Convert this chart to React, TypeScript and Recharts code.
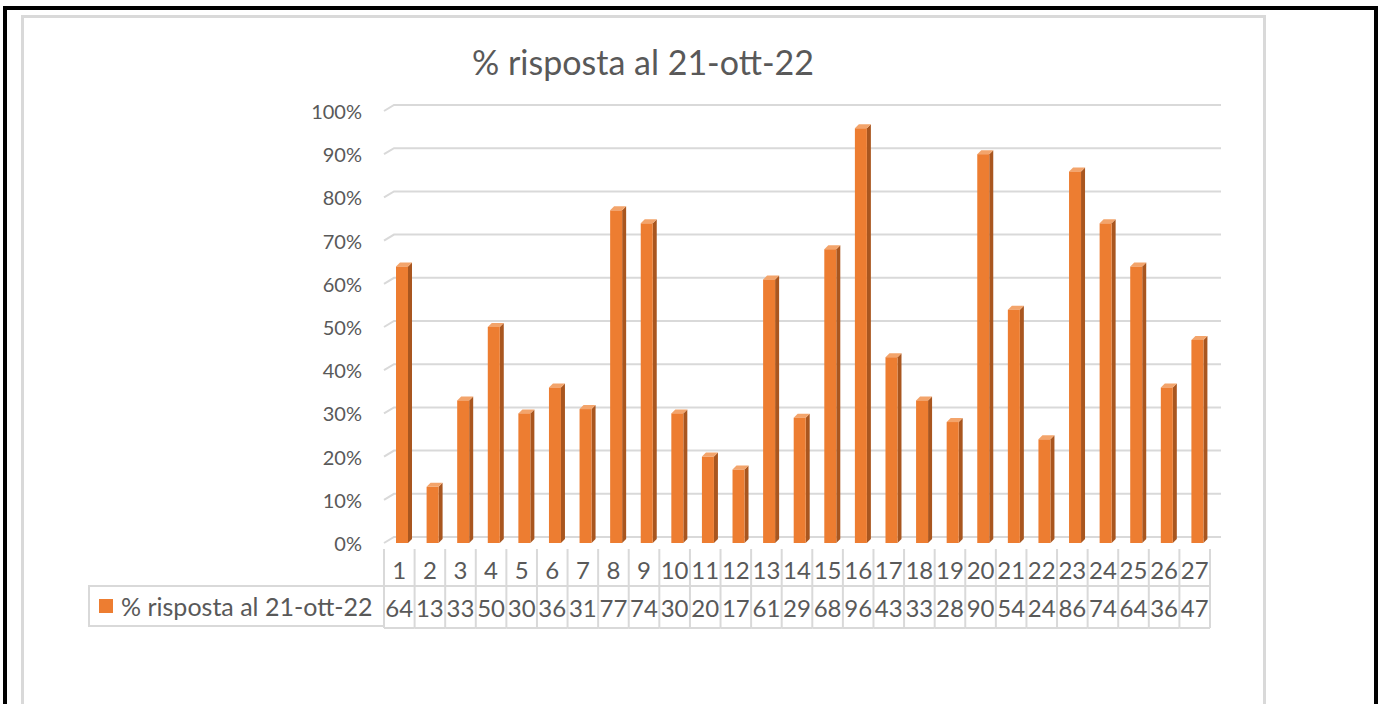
import React from 'react';
import { BarChart, Bar, XAxis, YAxis, CartesianGrid } from 'recharts';

const categories = ['1','2','3','4','5','6','7','8','9','10','11','12','13','14','15','16','17','18','19','20','21','22','23','24','25','26','27'];
const risposta = [64, 13, 33, 50, 30, 36, 31, 77, 74, 30, 20, 17, 61, 29, 68, 96, 43, 33, 28, 90, 54, 24, 86, 74, 64, 36, 47];
const yTicks = [0, 10, 20, 30, 40, 50, 60, 70, 80, 90, 100];
const seriesName = '% risposta al 21-ott-22';

const data = categories.map((c, i) => ({ cat: c, value: risposta[i] }));

const FONT = 'Lato, "Open Sans", sans-serif';
const TEXT = '#595959';
const LINE = '#d9d9d9';
const BAND = 826 / 27;

// 3D-looking column: front face, darker side, lighter top
const Bar3D = (props: any) => {
  const { x, y, height } = props;
  const fx = x + 3;
  const w = 12;
  const d = 4;
  return (
    <g>
      <polygon points={`${fx + w},${y} ${fx + w + d},${y - d} ${fx + w + d},${y + height - d} ${fx + w},${y + height}`} fill="#a9561f" />
      <polygon points={`${fx},${y} ${fx + d},${y - d} ${fx + w + d},${y - d} ${fx + w},${y}`} fill="#f3a46b" />
      <rect x={fx} y={y} width={w} height={height} fill="#ed7d31" />
    </g>
  );
};

const gridLine = (props: any) => {
  const { x1, y1, x2 } = props;
  return (
    <path
      key={`g-${y1}`}
      d={`M${x1},${y1} L${x1 + 10},${y1 - 6} L${x2 + 11},${y1 - 6}`}
      stroke={LINE}
      strokeWidth={2}
      fill="none"
    />
  );
};

const YTick = (props: any) => {
  const { y, payload } = props;
  return (
    <text x={362} y={y} textAnchor="end" dominantBaseline="central" fontFamily={FONT} fontSize={20} fill={TEXT}>
      {`${payload.value}%`}
    </text>
  );
};

// category row + value row of the data table
const XTick = (props: any) => {
  const { x, y, payload, index } = props;
  const left = x - BAND / 2;
  const right = x + BAND / 2;
  const last = index === categories.length - 1;
  return (
    <g>
      <path d={`M${left},${y + 6} L${left},${y + 85}`} stroke={LINE} strokeWidth={2} />
      {last && <path d={`M${right},${y + 6} L${right},${y + 85}`} stroke={LINE} strokeWidth={2} />}
      <path d={`M${left},${y + 43} L${right},${y + 43} M${left},${y + 85} L${right},${y + 85}`} stroke={LINE} strokeWidth={2} />
      <text x={x} y={y + 26} textAnchor="middle" dominantBaseline="central" fontFamily={FONT} fontSize={24} fill={TEXT}>
        {payload.value}
      </text>
      <text x={x} y={y + 64} textAnchor="middle" dominantBaseline="central" fontFamily={FONT} fontSize={24} fill={TEXT}>
        {risposta[index]}
      </text>
    </g>
  );
};

const frameLine = (left: number, top: number, width: number, height: number, color: string) => (
  <div style={{ position: 'absolute', left, top, width, height, background: color }} />
);

export default function App() {
  return (
    <div style={{ position: 'fixed', left: 0, top: 0, width: 1383, height: 704, overflow: 'hidden', background: '#fff' }}>
      {frameLine(3, 6, 1375, 4, '#000')}
      {frameLine(3, 6, 4, 720, '#000')}
      {frameLine(1374, 6, 4, 720, '#000')}
      {frameLine(21, 15, 1245, 3, LINE)}
      {frameLine(21, 15, 3, 720, LINE)}
      {frameLine(1263, 15, 3, 720, LINE)}
      <div
        style={{
          position: 'absolute', left: 0, width: 1286, top: 42, textAlign: 'center',
          fontFamily: FONT, fontSize: 34, color: TEXT, lineHeight: '40px',
        }}
      >
        {seriesName}
      </div>
      <div style={{ position: 'absolute', left: 0, top: 0 }}>
        <BarChart width={1383} height={704} data={data} margin={{ top: 111, right: 173, bottom: 71, left: 324 }}>
          <CartesianGrid horizontal={gridLine} vertical={false} />
          <YAxis
            domain={[0, 100]}
            ticks={yTicks}
            width={60}
            axisLine={false}
            tickLine={false}
            tick={<YTick />}
          />
          <XAxis
            dataKey="cat"
            height={90}
            interval={0}
            axisLine={false}
            tickLine={false}
            tickSize={0}
            tickMargin={0}
            tick={<XTick />}
          />
          <Bar dataKey="value" barSize={12} shape={<Bar3D />} isAnimationActive={false} />
        </BarChart>
      </div>
      <div
        style={{
          position: 'absolute', left: 88, top: 585, width: 296, height: 42,
          borderLeft: '2px solid #d9d9d9', borderTop: '2px solid #d9d9d9', borderBottom: '2px solid #d9d9d9',
          boxSizing: 'border-box', display: 'flex', alignItems: 'center',
          fontFamily: FONT, fontSize: 25, color: TEXT,
        }}
      >
        <span style={{ display: 'inline-block', width: 14, height: 14, background: '#ed7d31', marginLeft: 9, marginRight: 8 }} />
        <span>{seriesName}</span>
      </div>
    </div>
  );
}
